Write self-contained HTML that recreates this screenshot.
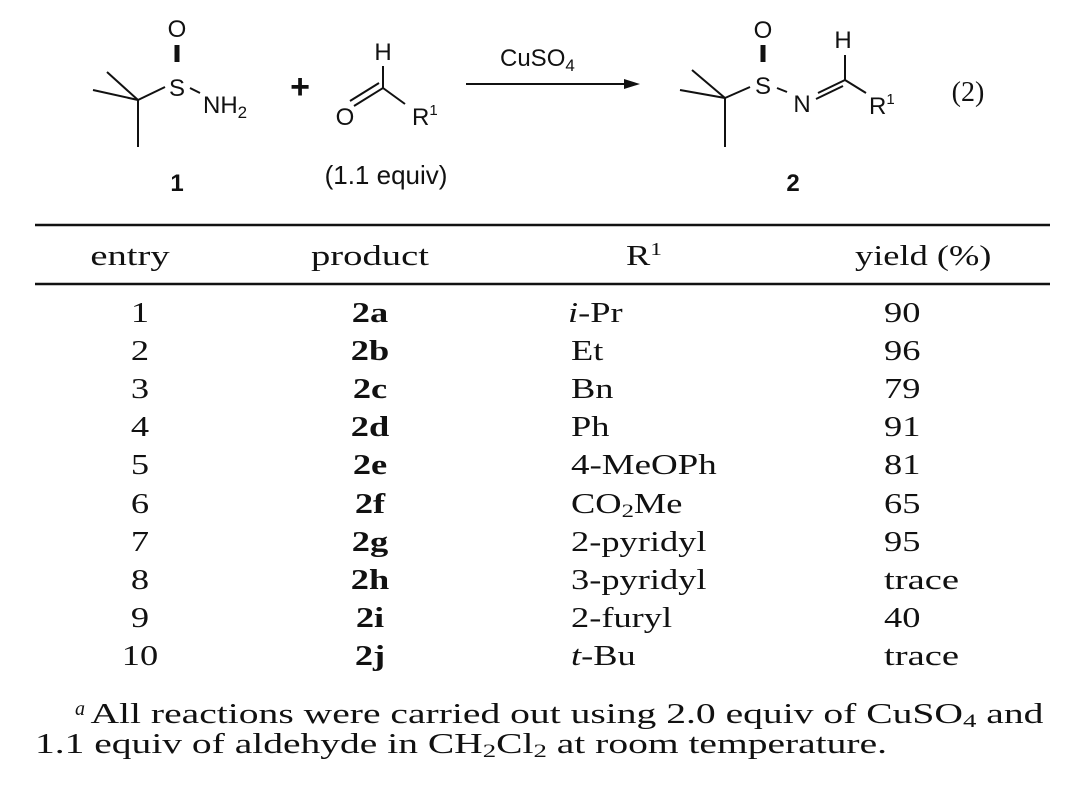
<!DOCTYPE html>
<html><head><meta charset="utf-8"><style>
html,body{margin:0;padding:0;background:#fff;}
svg{display:block;}
.s{font-family:"Liberation Sans",sans-serif;fill:#111;}
.t{font-family:"Liberation Serif",serif;fill:#111;font-size:28px;}
</style></head><body>
<svg width="1080" height="785" viewBox="0 0 1080 785" xmlns="http://www.w3.org/2000/svg">
<g stroke="#111" stroke-width="2" fill="none">
<line x1="138" y1="100" x2="165" y2="87"/>
<line x1="138" y1="100" x2="107" y2="72"/>
<line x1="138" y1="100" x2="93" y2="90"/>
<line x1="138" y1="100" x2="138" y2="147"/>
<line x1="177" y1="45" x2="177" y2="62" stroke-width="5"/>
<line x1="190" y1="88" x2="200" y2="93"/>
<line x1="383" y1="66" x2="383" y2="88"/>
<line x1="383" y1="88" x2="405" y2="104"/>
<line x1="383" y1="88" x2="354" y2="106"/>
<line x1="379" y1="83" x2="350" y2="101"/>
<line x1="466" y1="84" x2="630" y2="84"/>
<line x1="725" y1="98" x2="750" y2="87"/>
<line x1="725" y1="98" x2="692" y2="70"/>
<line x1="725" y1="98" x2="680" y2="90"/>
<line x1="725" y1="98" x2="725" y2="147"/>
<line x1="763" y1="45" x2="763" y2="62" stroke-width="5"/>
<line x1="777" y1="88" x2="787" y2="92"/>
<line x1="818" y1="93" x2="845" y2="80"/>
<line x1="816" y1="99" x2="843" y2="86"/>
<line x1="845" y1="55" x2="845" y2="80"/>
<line x1="845" y1="80" x2="866" y2="93"/>
</g>
<polygon points="640,84 624,79 624,89" fill="#111"/>
<g class="s" font-size="24">
<text x="177" y="37" text-anchor="middle">O</text>
<text x="177" y="96" text-anchor="middle">S</text>
<text x="203" y="113">NH<tspan font-size="17" dy="5">2</tspan></text>
<text x="383" y="60" text-anchor="middle">H</text>
<text x="345" y="125" text-anchor="middle">O</text>
<text x="412" y="125">R<tspan font-size="15" dy="-10">1</tspan></text>
<text x="386" y="184" font-size="26" text-anchor="middle">(1.1 equiv)</text>
<text x="500" y="66">CuSO<tspan font-size="17" dy="5">4</tspan></text>
<text x="763" y="38" text-anchor="middle">O</text>
<text x="763" y="94" text-anchor="middle">S</text>
<text x="802" y="112" text-anchor="middle">N</text>
<text x="843" y="48" text-anchor="middle">H</text>
<text x="869" y="114">R<tspan font-size="15" dy="-10">1</tspan></text>
<text x="177" y="191" text-anchor="middle" font-weight="bold">1</text>
<text x="793" y="191" text-anchor="middle" font-weight="bold">2</text>
</g>
<text x="300" y="98" class="s" font-size="34" font-weight="bold" text-anchor="middle">+</text>
<text x="968" y="101" class="t" font-size="30" text-anchor="middle">(2)</text>
<line x1="35" y1="225" x2="1050" y2="225" stroke="#111" stroke-width="2.5"/>
<line x1="35" y1="284" x2="1050" y2="284" stroke="#111" stroke-width="2.5"/>
<g class="t">
<g transform="translate(130,265) scale(1.38,1)"><text text-anchor="middle">entry</text></g>
<g transform="translate(370,265) scale(1.38,1)"><text text-anchor="middle">product</text></g>
<g transform="translate(626,265) scale(1.3,1)"><text>R<tspan font-size="18" dy="-10">1</tspan></text></g>
<g transform="translate(855,265) scale(1.3,1)"><text>yield (%)</text></g>

<g text-anchor="middle">
<g transform="translate(140,322) scale(1.3,1)"><text>1</text></g>
<g transform="translate(140,360) scale(1.3,1)"><text>2</text></g>
<g transform="translate(140,398) scale(1.3,1)"><text>3</text></g>
<g transform="translate(140,436) scale(1.3,1)"><text>4</text></g>
<g transform="translate(140,474) scale(1.3,1)"><text>5</text></g>
<g transform="translate(140,513) scale(1.3,1)"><text>6</text></g>
<g transform="translate(140,551) scale(1.3,1)"><text>7</text></g>
<g transform="translate(140,589) scale(1.3,1)"><text>8</text></g>
<g transform="translate(140,627) scale(1.3,1)"><text>9</text></g>
<g transform="translate(140,665) scale(1.3,1)"><text>10</text></g>
</g>
<g text-anchor="middle" font-weight="bold">
<g transform="translate(370,322) scale(1.3,1)"><text>2a</text></g>
<g transform="translate(370,360) scale(1.3,1)"><text>2b</text></g>
<g transform="translate(370,398) scale(1.3,1)"><text>2c</text></g>
<g transform="translate(370,436) scale(1.3,1)"><text>2d</text></g>
<g transform="translate(370,474) scale(1.3,1)"><text>2e</text></g>
<g transform="translate(370,513) scale(1.3,1)"><text>2f</text></g>
<g transform="translate(370,551) scale(1.3,1)"><text>2g</text></g>
<g transform="translate(370,589) scale(1.3,1)"><text>2h</text></g>
<g transform="translate(370,627) scale(1.3,1)"><text>2i</text></g>
<g transform="translate(370,665) scale(1.3,1)"><text>2j</text></g>
</g>
<g transform="translate(568,322) scale(1.3,1)"><text><tspan font-style="italic">i</tspan>-Pr</text></g>
<g transform="translate(571,360) scale(1.3,1)"><text>Et</text></g>
<g transform="translate(571,398) scale(1.3,1)"><text>Bn</text></g>
<g transform="translate(571,436) scale(1.3,1)"><text>Ph</text></g>
<g transform="translate(571,474) scale(1.32,1)"><text>4-MeOPh</text></g>
<g transform="translate(571,513) scale(1.3,1)"><text>CO<tspan font-size="19" dy="4">2</tspan><tspan dy="-4">Me</tspan></text></g>
<g transform="translate(571,551) scale(1.3,1)"><text>2-pyridyl</text></g>
<g transform="translate(571,589) scale(1.3,1)"><text>3-pyridyl</text></g>
<g transform="translate(571,627) scale(1.3,1)"><text>2-furyl</text></g>
<g transform="translate(571,665) scale(1.3,1)"><text><tspan font-style="italic">t</tspan>-Bu</text></g>
<g transform="translate(884,322) scale(1.3,1)"><text>90</text></g>
<g transform="translate(884,360) scale(1.3,1)"><text>96</text></g>
<g transform="translate(884,398) scale(1.3,1)"><text>79</text></g>
<g transform="translate(884,436) scale(1.3,1)"><text>91</text></g>
<g transform="translate(884,474) scale(1.3,1)"><text>81</text></g>
<g transform="translate(884,513) scale(1.3,1)"><text>65</text></g>
<g transform="translate(884,551) scale(1.3,1)"><text>95</text></g>
<g transform="translate(884,589) scale(1.38,1)"><text>trace</text></g>
<g transform="translate(884,627) scale(1.3,1)"><text>40</text></g>
<g transform="translate(884,665) scale(1.38,1)"><text>trace</text></g>
</g>
<g class="t" font-size="29">
<text x="75" y="723"><tspan font-style="italic" font-size="20" dy="-8">a</tspan><tspan dy="8"> </tspan><tspan textLength="953" lengthAdjust="spacingAndGlyphs">All reactions were carried out using 2.0 equiv of CuSO<tspan font-size="19" dy="4">4</tspan><tspan dy="-4"> and</tspan></tspan></text>
<text x="35" y="753" textLength="852" lengthAdjust="spacingAndGlyphs">1.1 equiv of aldehyde in CH<tspan font-size="19" dy="4">2</tspan><tspan dy="-4">Cl</tspan><tspan font-size="19" dy="4">2</tspan><tspan dy="-4"> at room temperature.</tspan></text>
</g>
</svg>
</body></html>
